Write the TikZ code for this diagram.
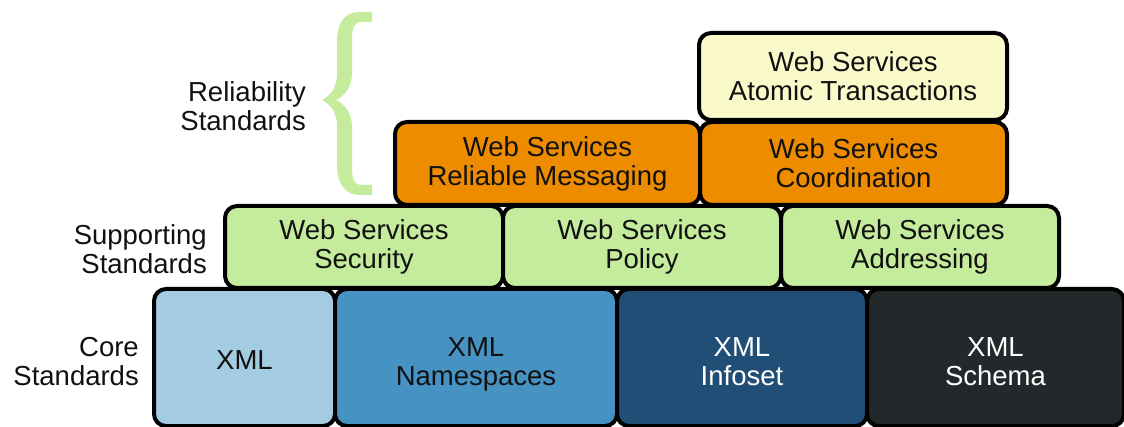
\documentclass[tikz,border=0pt]{standalone}
\usepackage{fontspec}
\setmainfont{Liberation Sans}
\definecolor{atomicc}{HTML}{F9F9C9}
\definecolor{orangec}{HTML}{EE8C00}
\definecolor{greenc}{HTML}{C4EC9C}
\definecolor{xmlc}{HTML}{A3CCE3}
\definecolor{nsc}{HTML}{4592C3}
\definecolor{infoc}{HTML}{214E77}
\definecolor{schemac}{HTML}{23282B}
\definecolor{bracec}{HTML}{C4EC9C}
\definecolor{textc}{HTML}{111111}
\begin{document}
\begin{tikzpicture}[x=1pt,y=-1pt,
  txt/.style={inner sep=0pt, align=center, text=textc,
    font=\fontsize{27.5}{29}\selectfont},
  blk/.style={txt, draw=black, line width=4pt, rounded corners=12pt,
    anchor=north west},
  corebox/.style={blk, minimum height=137pt},
  lbl/.style={txt, anchor=east, align=right}]
\useasboundingbox (0,0) rectangle (1124,427);
\fill[white] (0,0) rectangle (1124,427);
% brace
\fill[bracec]
  (372,12) -- (360,12) .. controls (345,12) and (337,22) .. (337,42)
  -- (337,74) .. controls (337,88) and (330,96) .. (322,100)
  .. controls (330,104) and (337,112) .. (337,126)
  -- (337,164) .. controls (337,184) and (345,195) .. (360,195) -- (372,195)
  -- (372,185) -- (362,185) .. controls (354,185) and (352,180) .. (352,166)
  -- (352,128) .. controls (352,114) and (346,105) .. (336,100)
  .. controls (346,95) and (352,86) .. (352,72)
  -- (352,40) .. controls (352,26) and (354,22) .. (362,22) -- (372,22) -- cycle;
% labels
\node[lbl] (rel) at (306,106) {Reliability\\Standards};
\node[lbl] (sup) at (207,249) {Supporting\\Standards};
\node[lbl] (core) at (139,362) {Core\\Standards};
% core row
\node[corebox, fill=xmlc, minimum width=181pt] (xml) at (152,287) {};
\node[corebox, fill=nsc, minimum width=282pt] (ns) at (333,287) {};
\node[corebox, fill=infoc, minimum width=250pt] (info) at (615,287) {};
\node[corebox, fill=schemac, minimum width=257pt] (schema) at (865,287) {};
\node[txt] (xmlt) at ([yshift=-3pt]xml.center) {XML};
\node[txt] (nst) at ([yshift=-7pt]ns.center) {XML\\Namespaces};
\node[txt, text=white] (infot) at ([yshift=-4pt]info.center) {XML\\Infoset};
\node[txt, text=white] (schemat) at ([yshift=-4pt]schema.center) {XML\\Schema};
% supporting row
\node[blk, fill=greenc, minimum width=278pt, minimum height=82pt] (sec) at (223,204) {Web Services\\Security};
\node[blk, fill=greenc, minimum width=278pt, minimum height=82pt] (pol) at (501,204) {Web Services\\Policy};
\node[blk, fill=greenc, minimum width=278pt, minimum height=82pt] (addr) at (779,204) {Web Services\\Addressing};
% reliability row
\node[blk, fill=orangec, minimum width=305pt, minimum height=83pt] (rm) at (393,120) {Web Services\\Reliable Messaging};
\node[blk, fill=orangec, minimum width=307pt, minimum height=83pt] (coord) at (698,120) {Web Services\\Coordination};
\node[blk, fill=atomicc, minimum width=308pt, minimum height=87pt] (at) at (697,31) {Web Services\\Atomic Transactions};
\end{tikzpicture}
\end{document}
